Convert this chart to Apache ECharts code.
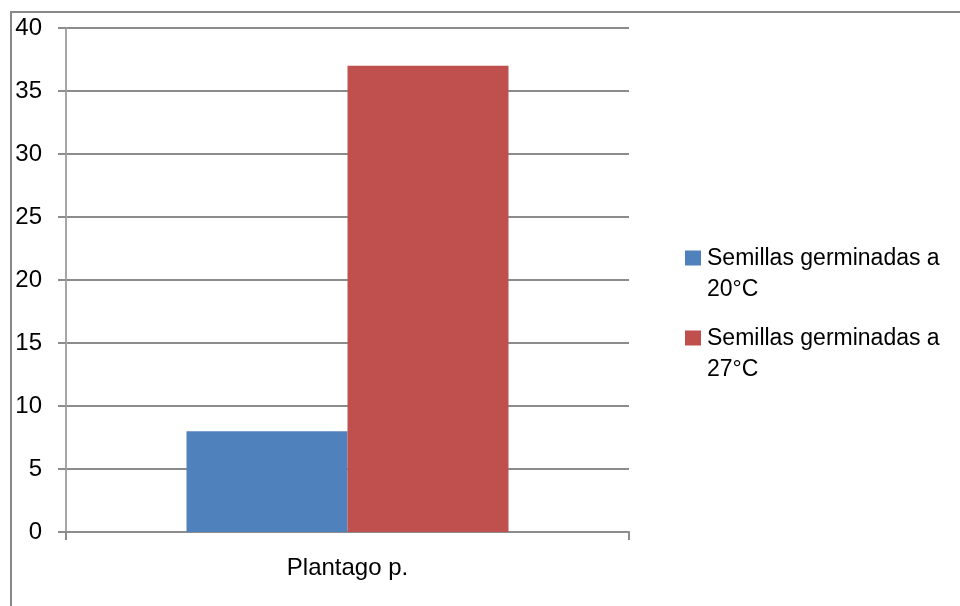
<!DOCTYPE html>
<html>
<head>
<meta charset="utf-8">
<script src="https://cdn.jsdelivr.net/npm/echarts@6/dist/echarts.min.js"></script>
<style>
  html, body { margin: 0; padding: 0; background: #fff; }
  #chart { width: 960px; height: 606px; }
</style>
</head>
<body>
<div id="chart"></div>
<script>
var categories = ['Plantago p.'];
var seriesNames = ['Semillas germinadas a 20°C', 'Semillas germinadas a 27°C'];
var values20 = [8];
var values27 = [37];

var font = 'Liberation Sans, Arial, sans-serif';

var option = {
  animation: false,
  backgroundColor: '#ffffff',
  color: ['#4F81BD', '#C0504D'],
  graphic: [
    {
      type: 'rect',
      shape: { x: 11, y: 12, width: 1000, height: 1000 },
      style: { fill: 'none', stroke: '#888888', lineWidth: 2 },
      silent: true
    }
  ],
  grid: {
    left: 66,
    right: 331,
    top: 28,
    bottom: 74
  },
  legend: {
    orient: 'vertical',
    left: 680,
    top: 238,
    itemGap: 18,
    itemWidth: 16,
    itemHeight: 47,
    selectedMode: false,
    // square at the top, invisible moveTo keeps the box tall so it lines up with line 1
    icon: 'path://M0,0L16,0L16,15L0,15ZM0,47',
    formatter: function (name) {
      return name.replace(/\s(\S+)$/, '\n$1');
    },
    textStyle: {
      fontFamily: font,
      fontSize: 23,
      lineHeight: 31,
      color: '#000000',
      padding: [0, 0, 0, 1]
    },
    data: seriesNames
  },
  xAxis: {
    type: 'category',
    data: categories,
    axisLine: { show: true, lineStyle: { color: '#8c8c8c', width: 2 } },
    axisTick: { show: true, length: 8, lineStyle: { color: '#8c8c8c', width: 2 } },
    axisLabel: {
      margin: 24,
      fontFamily: font,
      fontSize: 24,
      color: '#000000'
    }
  },
  yAxis: {
    type: 'value',
    min: 0,
    max: 40,
    interval: 5,
    axisLine: { show: true, lineStyle: { color: '#a6a6a6', width: 2 } },
    axisTick: { show: true, length: 8, lineStyle: { color: '#8c8c8c', width: 2 } },
    splitLine: { show: true, lineStyle: { color: '#8c8c8c', width: 2 } },
    axisLabel: {
      margin: 24,
      fontFamily: font,
      fontSize: 24,
      color: '#000000'
    }
  },
  series: [
    {
      name: seriesNames[0],
      type: 'bar',
      barWidth: 161,
      barGap: '0%',
      data: values20
    },
    {
      name: seriesNames[1],
      type: 'bar',
      barWidth: 161,
      barGap: '0%',
      data: values27
    }
  ]
};

var myChart = echarts.init(document.getElementById('chart'));
myChart.setOption(option);
</script>
</body>
</html>
